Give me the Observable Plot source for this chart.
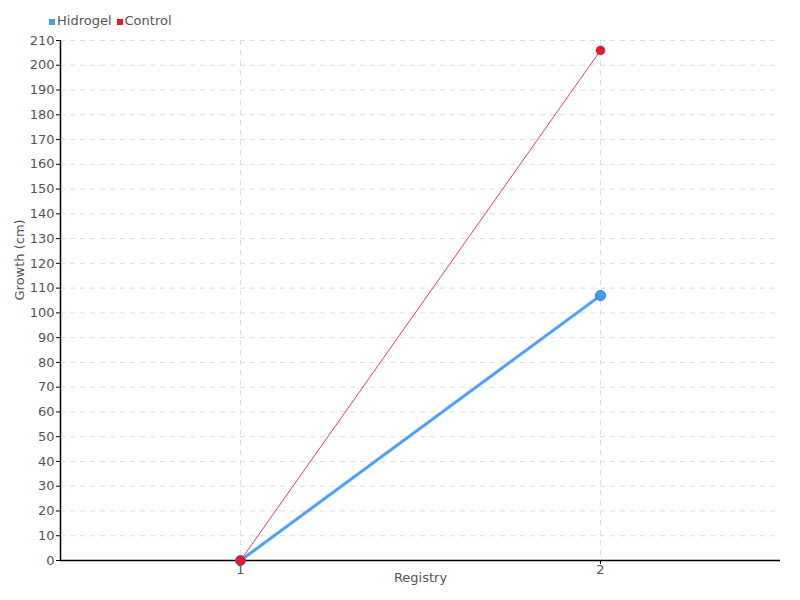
<!DOCTYPE html>
<html><head><meta charset="utf-8">
<script src="https://cdn.jsdelivr.net/npm/d3@7"></script>
<script src="https://cdn.jsdelivr.net/npm/@observablehq/plot@0.6"></script>
<style>
body{margin:0;background:#fff;font-family:"DejaVu Sans",sans-serif;}
#wrap{position:relative;width:800px;height:600px;}
#legend{position:absolute;left:49px;top:13px;font-size:13px;color:#555;display:flex;gap:5px;align-items:center;}
#legend span.sw{display:inline-block;width:6px;height:6px;margin-right:2px;vertical-align:middle;}
</style></head>
<body><div id="wrap"><div id="legend"></div></div>
<script>
const registry = [1, 2];
const hidrogel = [0, 107];
const control = [0, 206];
const seriesNames = ["Hidrogel", "Control"];
const seriesColors = ["#4a9af5", "#e8192c"];
const yTicks = d3.range(0, 211, 10);

const hData = registry.map((r, i) => ({x: r, y: hidrogel[i]}));
const cData = registry.map((r, i) => ({x: r, y: control[i]}));

const font = '"DejaVu Sans",sans-serif';
const plot = Plot.plot({
  width: 800, height: 600,
  marginLeft: 60, marginRight: 20, marginTop: 40, marginBottom: 40,
  style: {fontFamily: font, fontSize: "13px", color: "#555", background: "#fff"},
  x: {type: "linear", domain: [0.5, 2.5]},
  y: {domain: [0, 210]},
  marks: [
    Plot.gridY(yTicks, {stroke: "#ddd", strokeOpacity: 1, strokeDasharray: "5,5"}),
    Plot.gridX(registry, {stroke: "#ddd", strokeOpacity: 1, strokeDasharray: "5,5"}),
    Plot.axisY(yTicks, {tickSize: 4, tickPadding: 2, fill: "#555", stroke: "#000", label: null, tickFormat: d => d}),
    Plot.axisX(registry, {tickSize: 4, tickPadding: 0, fill: "#555", stroke: "#000", label: null, tickFormat: d => d}),
    Plot.ruleX([0.5], {stroke: "#000", strokeWidth: 1.5}),
    Plot.ruleY([0], {stroke: "#000", strokeWidth: 1.5}),
    Plot.text(["Growth (cm)"], {frameAnchor: "left", dx: -41, rotate: -90, fill: "#555", fontSize: 13}),
    Plot.text(["Registry"], {frameAnchor: "bottom", dy: 21, fill: "#555", fontSize: 13}),
    Plot.line(hData, {x: "x", y: "y", stroke: "#8cc2ff", strokeWidth: 3.5}),
    Plot.line(hData, {x: "x", y: "y", stroke: seriesColors[0], strokeWidth: 2}),
    Plot.dot(hData, {x: "x", y: "y", r: 5, fill: seriesColors[0], stroke: "#2a78d8", strokeWidth: 1}),
    Plot.line(cData, {x: "x", y: "y", stroke: "#f0404f", strokeWidth: 1}),
    Plot.dot(cData, {x: "x", y: "y", r: 4.5, fill: seriesColors[1], stroke: "#c8101f", strokeWidth: 0.5})
  ]
});
document.getElementById("wrap").appendChild(plot);
const lg = document.getElementById("legend");
seriesNames.forEach((n, i) => {
  const s = document.createElement("span");
  s.innerHTML = `<span class="sw" style="background:${seriesColors[i]}"></span>${n}`;
  lg.appendChild(s);
});
lg.style.zIndex = 2;
plot.style.position = "absolute"; plot.style.left = "0"; plot.style.top = "0";
</script></body></html>
